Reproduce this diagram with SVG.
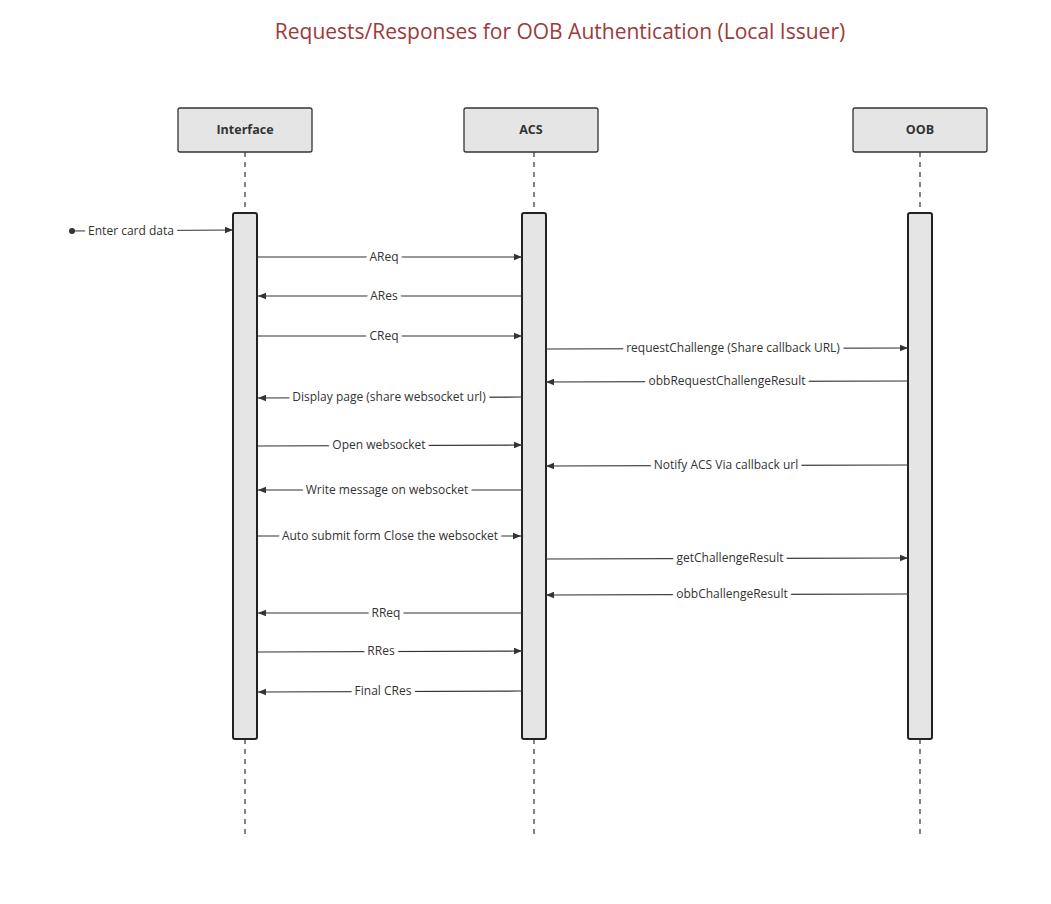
<svg xmlns="http://www.w3.org/2000/svg" width="1051" height="904" viewBox="0 0 1051 904">
<defs>
<marker id="ah" viewBox="0 0 10 10" refX="10" refY="5" markerWidth="8" markerHeight="8" markerUnits="userSpaceOnUse" orient="auto"><path d="M0,1 L10,5 L0,9 z" fill="#333"/></marker>
<style>
.hd{fill:#e5e5e5;stroke:#333;stroke-width:1.3}
.ht{font-family:"Open Sans",sans-serif;font-size:12.5px;font-weight:bold;fill:#333;text-anchor:middle}
.life{stroke:#333;stroke-width:1.2;stroke-dasharray:5 5}
.act{fill:#e5e5e5;stroke:#222;stroke-width:2}
.msg{stroke:#333;stroke-width:1.2;marker-end:url(#ah)}
.lb{font-family:"Open Sans",sans-serif;font-size:12px;fill:#333;text-anchor:middle;stroke:#fff;stroke-width:8;paint-order:stroke;stroke-linejoin:round}
</style>
</defs>
<rect width="1051" height="904" fill="#fff"/>
<text x="560" y="39" font-family="'Open Sans',sans-serif" font-size="21" fill="#9b3a3a" text-anchor="middle">Requests/Responses for OOB Authentication (Local Issuer)</text>
<g id="interface">
<line class="life" x1="245" y1="152" x2="245" y2="213"/><line class="life" x1="245" y1="739" x2="245" y2="835"/>
<rect class="hd" x="178" y="108" width="134" height="44" rx="2"/><text class="ht" x="245" y="134">Interface</text>
<rect class="act" x="233" y="213" width="24" height="526" rx="2"/>
</g>
<g id="acs">
<line class="life" x1="534" y1="152" x2="534" y2="213"/><line class="life" x1="534" y1="739" x2="534" y2="835"/>
<rect class="hd" x="464" y="108" width="134" height="44" rx="2"/><text class="ht" x="531" y="134">ACS</text>
<rect class="act" x="522" y="213" width="24" height="526" rx="2"/>
</g>
<g id="oob">
<line class="life" x1="920" y1="152" x2="920" y2="213"/><line class="life" x1="920" y1="739" x2="920" y2="835"/>
<rect class="hd" x="853" y="108" width="134" height="44" rx="2"/><text class="ht" x="920" y="134">OOB</text>
<rect class="act" x="908" y="213" width="24" height="526" rx="2"/>
</g>
<g id="connectors">
<circle cx="72" cy="231" r="3" fill="#333"/>
<line class="msg" x1="72" y1="231" x2="233" y2="230"/><text class="lb" x="131" y="235">Enter card data</text>
<line class="msg" x1="258" y1="257" x2="522" y2="257"/><text class="lb" x="384" y="261">AReq</text>
<line class="msg" x1="522" y1="296" x2="258" y2="296"/><text class="lb" x="384" y="300">ARes</text>
<line class="msg" x1="258" y1="336" x2="522" y2="336"/><text class="lb" x="384" y="340">CReq</text>
<line class="msg" x1="546" y1="349" x2="908" y2="348"/><text class="lb" x="733" y="352">requestChallenge (Share callback URL)</text>
<line class="msg" x1="908" y1="381" x2="546" y2="382"/><text class="lb" x="727" y="385">obbRequestChallengeResult</text>
<line class="msg" x1="522" y1="397" x2="258" y2="398"/><text class="lb" x="389" y="401">Display page (share websocket url)</text>
<line class="msg" x1="258" y1="446" x2="522" y2="445"/><text class="lb" x="379" y="449">Open websocket</text>
<line class="msg" x1="908" y1="465" x2="546" y2="466"/><text class="lb" x="726" y="469">Notify ACS Via callback url</text>
<line class="msg" x1="522" y1="490" x2="258" y2="490"/><text class="lb" x="387" y="494">Write message on websocket</text>
<line class="msg" x1="258" y1="536" x2="521" y2="536"/><text class="lb" x="390" y="540">Auto submit form Close the websocket</text>
<line class="msg" x1="546" y1="559" x2="908" y2="558"/><text class="lb" x="730" y="562">getChallengeResult</text>
<line class="msg" x1="908" y1="594" x2="546" y2="595"/><text class="lb" x="732" y="598">obbChallengeResult</text>
<line class="msg" x1="522" y1="613" x2="258" y2="613"/><text class="lb" x="386" y="617">RReq</text>
<line class="msg" x1="258" y1="652" x2="522" y2="651"/><text class="lb" x="381" y="655">RRes</text>
<line class="msg" x1="522" y1="691" x2="258" y2="692"/><text class="lb" x="383" y="695">Final CRes</text>
</g>
</svg>
